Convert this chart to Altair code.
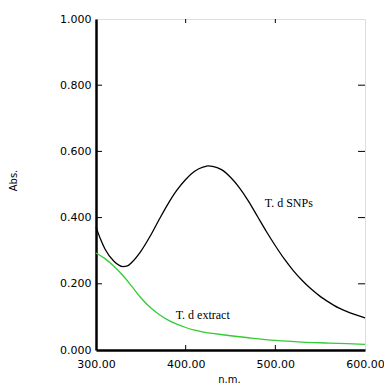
import altair as alt
import pandas as pd

# T. d SNPs (black)
snp_nm = [300, 305, 310, 320, 330, 335, 340, 350, 360, 370, 380, 390, 400, 410, 420, 425, 430,
          440, 450, 460, 470, 480, 490, 500, 510, 520, 530, 540, 550, 560, 570, 580, 590, 600]
snp_abs = [0.372, 0.335, 0.305, 0.268, 0.252, 0.254, 0.265, 0.298, 0.342, 0.392, 0.440, 0.482,
           0.515, 0.540, 0.553, 0.556, 0.555, 0.545, 0.522, 0.490, 0.450, 0.404, 0.358, 0.315,
           0.275, 0.240, 0.210, 0.184, 0.162, 0.144, 0.128, 0.116, 0.106, 0.097]

# T. d extract (green)
ext_nm = [300, 310, 320, 330, 340, 350, 360, 370, 380, 390, 400, 410, 420, 430, 450, 470,
          500, 530, 560, 580, 600]
ext_abs = [0.293, 0.276, 0.253, 0.225, 0.192, 0.158, 0.130, 0.108, 0.091, 0.078, 0.068, 0.060,
           0.054, 0.050, 0.043, 0.037, 0.029, 0.024, 0.021, 0.019, 0.017]

x_ticks = [300, 400, 500, 600]
y_ticks = [0.0, 0.2, 0.4, 0.6, 0.8, 1.0]
x_inner_ticks = [400, 500]
y_inner_ticks = [0.2, 0.4, 0.6, 0.8]

labels = ["T. d SNPs", "T. d extract"]
label_nm = [515, 419]
label_abs = [0.444, 0.106]

W, H = 269, 331

snp = pd.DataFrame({"nm": snp_nm, "abs": snp_abs})
ext = pd.DataFrame({"nm": ext_nm, "abs": ext_abs})
lab = pd.DataFrame({"label": labels, "nm": label_nm, "abs": label_abs})
xt = pd.DataFrame({"nm": x_inner_ticks})
yt = pd.DataFrame({"abs": y_inner_ticks})

xs = alt.Scale(domain=[300, 600], nice=False, zero=False)
ys = alt.Scale(domain=[0, 1], nice=False)

x_axis = alt.Axis(values=x_ticks, format=".2f", title="n.m.", grid=False, ticks=False,
                  domainWidth=2.5, domainColor="black", labelFlush=False, labelOverlap=False,
                  labelFont="DejaVu Sans", labelFontSize=11, labelColor="black", labelPadding=8,
                  titleFont="DejaVu Sans", titleFontSize=10, titleFontWeight="normal",
                  titleColor="black", titleX=133, titleY=29, titleBaseline="middle")
y_axis = alt.Axis(values=y_ticks, format=".3f", title="Abs.", grid=False, ticks=False,
                  domainWidth=2.5, domainColor="black", labelFlush=False, labelOverlap=False,
                  labelFont="DejaVu Sans", labelFontSize=11, labelColor="black", labelPadding=5,
                  titleFont="DejaVu Sans", titleFontSize=10, titleFontWeight="normal",
                  titleColor="black", titleX=-83, titleY=161, titleAngle=270,
                  titleBaseline="middle", titleAlign="center")

base_snp = alt.Chart(snp).mark_line(color="black", strokeWidth=1.3, interpolate="monotone").encode(
    x=alt.X("nm:Q", scale=xs, axis=x_axis),
    y=alt.Y("abs:Q", scale=ys, axis=y_axis),
)
line_ext = alt.Chart(ext).mark_line(color="#33cc33", strokeWidth=1.3, interpolate="monotone").encode(
    x=alt.X("nm:Q", scale=xs),
    y=alt.Y("abs:Q", scale=ys),
)
text = alt.Chart(lab).mark_text(font="Liberation Serif", fontSize=12, color="black",
                                align="center", baseline="middle").encode(
    x=alt.X("nm:Q", scale=xs),
    y=alt.Y("abs:Q", scale=ys),
    text="label:N",
)
tick_bottom = alt.Chart(xt).mark_rule(color="black", strokeWidth=1).encode(
    x=alt.X("nm:Q", scale=xs), y=alt.value(H - 5), y2=alt.value(H))
tick_top = alt.Chart(xt).mark_rule(color="black", strokeWidth=1).encode(
    x=alt.X("nm:Q", scale=xs), y=alt.value(0), y2=alt.value(4))
tick_left = alt.Chart(yt).mark_rule(color="black", strokeWidth=1).encode(
    y=alt.Y("abs:Q", scale=ys), x=alt.value(0), x2=alt.value(6))
tick_right = alt.Chart(yt).mark_rule(color="black", strokeWidth=1).encode(
    y=alt.Y("abs:Q", scale=ys), x=alt.value(W - 7), x2=alt.value(W))

chart = alt.layer(base_snp, line_ext, text, tick_bottom, tick_top, tick_left, tick_right).properties(
    width=W, height=H,
    autosize=alt.AutoSizeParams(type="none"),
    padding={"left": 88, "top": 11, "right": 19, "bottom": 36},
).configure_view(stroke="black", strokeWidth=1).configure(background="white")

chart.save("out.html", embed_options={"renderer": "svg", "actions": False})
